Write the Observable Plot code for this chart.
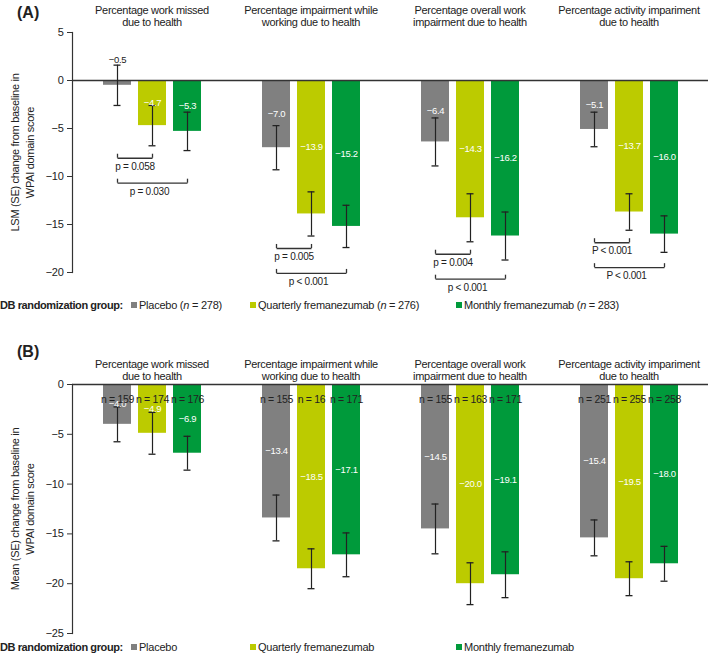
<!DOCTYPE html>
<html><head><meta charset="utf-8">
<script src="https://cdn.jsdelivr.net/npm/d3@7"></script>
<script src="https://cdn.jsdelivr.net/npm/@observablehq/plot@0.6"></script>
<style>
body{margin:0;background:#fff;font-family:"Liberation Sans",Arial,sans-serif;color:#222;}
#wrap{position:relative;width:709px;height:654px;overflow:hidden;}
.plot{position:absolute;left:0;}
.panel{position:absolute;left:17px;font-weight:bold;font-size:16px;line-height:18px;}
.legend{position:absolute;left:0;width:709px;height:14px;font-size:11px;line-height:14px;letter-spacing:-0.25px;}
.legend .item{position:absolute;top:0;white-space:nowrap;}
.legend .sw{display:inline-block;width:6px;height:6px;margin-right:2px;vertical-align:1px;}
</style></head>
<body><div id="wrap"></div>
<script>
// ---------- data ----------
const groups = [
  "Percentage work missed\ndue to health",
  "Percentage impairment while\nworking due to health",
  "Percentage overall work\nimpairment due to health",
  "Percentage activity impariment\ndue to health"
];
const series = ["Placebo", "Quarterly fremanezumab", "Monthly fremanezumab"];
const colors = ["#808080", "#bccb00", "#009a3b"];
const nA = [278, 276, 283];
// Panel A: LSM (SE) change from baseline
const lsmA = [[-0.5, -4.7, -5.3], [-7.0, -13.9, -15.2], [-6.4, -14.3, -16.2], [-5.1, -13.7, -16.0]];
const seA = [[2.1, 2.1, 2.0], [2.3, 2.3, 2.2], [2.5, 2.5, 2.5], [1.8, 1.9, 1.9]];
const pQuarterly = ["p = 0.058", "p = 0.005", "p = 0.004", "P < 0.001"];
const pMonthly = ["p = 0.030", "p < 0.001", "p < 0.001", "P < 0.001"];
// Panel B: Mean (SE) change from baseline
const meanB = [[-4.0, -4.9, -6.9], [-13.4, -18.5, -17.1], [-14.5, -20.0, -19.1], [-15.4, -19.5, -18.0]];
const seB = [[1.75, 2.1, 1.7], [2.3, 2.0, 2.2], [2.5, 2.1, 2.3], [1.8, 1.7, 1.75]];
const nB = [[159, 174, 176], [155, 16, 171], [155, 163, 171], [251, 255, 258]];
const yTicksA = [5, 0, -5, -10, -15, -20];
const yTicksB = [0, -5, -10, -15, -20, -25];
const yLabelA = "LSM (SE) change from baseline in\nWPAI domain score";
const yLabelB = "Mean (SE) change from baseline in\nWPAI domain score";

// ---------- helpers ----------
const W = 709, ML = 72, MR = 1;
const xOpts = {domain: series, paddingInner: 0.2, paddingOuter: 0.87, axis: null};
const facetW = (W - ML - MR) / groups.length;
const step = facetW / (series.length - xOpts.paddingInner + 2 * xOpts.paddingOuter);
const fmt = v => (v < 0 ? "\u2212" : "") + Math.abs(v).toFixed(1);
const tickFmt = v => (v < 0 ? "\u2212" : "") + Math.abs(v);

function makeRows(values, ses, ns) {
  return groups.flatMap((g, gi) => series.map((s, si) => {
    const v = values[gi][si], e = ses[gi][si];
    return {group: g, series: s, value: v, se: e, lo: v - e, hi: v + e, n: ns ? ns[gi][si] : null};
  }));
}

function panel(o) {
  const rows = o.rows;
  const marks = [
    Plot.barY(rows, {fx: "group", x: "series", y: "value", fill: "series"}),
    Plot.ruleY([0], {stroke: "#333", strokeWidth: 1.4}),
    Plot.frame({anchor: "left", facetAnchor: "left", stroke: "#333", strokeWidth: 1.2}),
    Plot.axisY(o.yTicks, {tickSize: 5, tickPadding: 4, tickFormat: tickFmt, label: null, fontSize: 11, stroke: "#333"}),
    Plot.text(groups.map(g => ({group: g})), {fx: "group", x: null, y: null, frameAnchor: "top", text: "group",
      lineAnchor: "bottom", dy: o.titleDy, fontSize: 11, lineHeight: 1.05, fill: "#222"}),
    Plot.text([{group: groups[0], label: o.yLabel}], {fx: "group", x: null, y: null, frameAnchor: "left", rotate: -90,
      textAnchor: "middle", lineAnchor: "middle", text: "label", dx: -51, fontSize: 11, lineHeight: 1.35, fill: "#222"}),
    // error bars
    Plot.ruleX(rows, {fx: "group", x: "series", y1: "lo", y2: "hi", stroke: "#222", strokeWidth: 1.2}),
    Plot.tickY(rows, {fx: "group", x: "series", y: "lo", insetLeft: 10.5, insetRight: 10.5, stroke: "#222", strokeWidth: 1.3}),
    Plot.tickY(rows, {fx: "group", x: "series", y: "hi", insetLeft: 10.5, insetRight: 10.5, stroke: "#222", strokeWidth: 1.3}),
    // value labels
    Plot.text(rows.filter(d => d.value <= -1), {fx: "group", x: "series", y: d => d.value / 2, text: d => fmt(d.value),
      fill: "white", fontSize: 9.5}),
    Plot.text(rows.filter(d => d.value > -1), {fx: "group", x: "series", y: "hi", text: d => fmt(d.value),
      fill: "#222", fontSize: 9.5, lineAnchor: "bottom", dy: -2})
  ];
  if (o.nLabels) {
    marks.push(Plot.text(rows, {fx: "group", x: "series", y: null, frameAnchor: "top", dy: 11,
      text: d => "n = " + d.n, fontSize: 10.5, fill: "#222", ariaLabel: "italic-first"}));
  }
  if (o.brackets) {
    const br = o.brackets;
    marks.push(
      Plot.link(br, {fx: "group", x1: "from", x2: "to", y1: "level", y2: "level", stroke: "#333", strokeWidth: 1.3}),
      Plot.ruleX(br, {fx: "group", x: "from", y1: "level", y2: d => d.level + 0.42, stroke: "#333", strokeWidth: 1.3}),
      Plot.ruleX(br, {fx: "group", x: "to", y1: "level", y2: d => d.level + 0.42, stroke: "#333", strokeWidth: 1.3}),
      Plot.text(br.filter(d => d.to === series[1]), {fx: "group", x: "from", y: "level", dx: step / 2, dy: 4.5,
        lineAnchor: "top", text: "label", fontSize: 10, fill: "#222", ariaLabel: "italic-first"}),
      Plot.text(br.filter(d => d.to === series[2]), {fx: "group", x: () => series[1], y: "level", dx: -3, dy: 4.5,
        lineAnchor: "top", text: "label", fontSize: 10, fill: "#222", ariaLabel: "italic-first"})
    );
  }
  const svg = Plot.plot({
    width: W, height: o.height, marginLeft: ML, marginRight: MR, marginTop: o.marginTop, marginBottom: o.marginBottom,
    style: {fontFamily: "'Liberation Sans', Arial, sans-serif", fontSize: "11px", color: "#222", background: "transparent",
      letterSpacing: "-0.3px", overflow: "visible"},
    fx: {domain: groups, padding: 0, axis: null},
    x: xOpts,
    y: {domain: o.yDomain, axis: null},
    color: {domain: series, range: colors},
    marks
  });
  d3.select(svg).selectAll('g[aria-label="italic-first"] text').each(function () {
    const t = this.textContent;
    this.textContent = "";
    const s = d3.select(this);
    s.append("tspan").attr("font-style", "italic").text(t.slice(0, 1));
    s.append("tspan").text(t.slice(1));
  });
  svg.classList.add("plot");
  svg.style.top = o.top + "px";
  svg.style.position = "absolute";
  return svg;
}

// ---------- panel A ----------
const rowsA = makeRows(lsmA, seA, null);
const bracketsA = groups.flatMap((g, gi) => {
  const q = rowsA.find(d => d.group === g && d.series === series[1]);
  const l1 = q.lo - 1.3;
  return [
    {group: g, from: series[0], to: series[1], level: l1, label: pQuarterly[gi]},
    {group: g, from: series[0], to: series[2], level: l1 - 2.6, label: pMonthly[gi]}
  ];
});
const rowsB = makeRows(meanB, seB, nB);

const wrap = document.getElementById("wrap");
wrap.appendChild(panel({rows: rowsA, yDomain: [-20, 5], yTicks: yTicksA, yLabel: yLabelA, height: 300,
  marginTop: 32, marginBottom: 28, top: 0, titleDy: -6.5, brackets: bracketsA}));
wrap.appendChild(panel({rows: rowsB, yDomain: [-25, 0], yTicks: yTicksB, yLabel: yLabelB, height: 330,
  marginTop: 72, marginBottom: 9, top: 312, titleDy: -4.8, nLabels: true}));

function legend(top, withN) {
  const div = document.createElement("div");
  div.className = "legend";
  div.style.top = top + "px";
  const lefts = [131, 250, 456];
  let html = '<b style="position:absolute;left:0px;letter-spacing:-0.4px">DB randomization group:</b>';
  series.forEach((s, i) => {
    html += `<span class="item" style="left:${lefts[i]}px"><span class="sw" style="background:${colors[i]}"></span>${s}` +
      (withN ? ` (<i>n</i> = ${nA[i]})` : "") + "</span>";
  });
  div.innerHTML = html;
  wrap.appendChild(div);
}
legend(298, true);
legend(640, false);

function label(text, top) {
  const d = document.createElement("div");
  d.className = "panel";
  d.style.top = top + "px";
  d.textContent = text;
  wrap.appendChild(d);
}
label("(A)", 4);
label("(B)", 343);
</script>
</body></html>
